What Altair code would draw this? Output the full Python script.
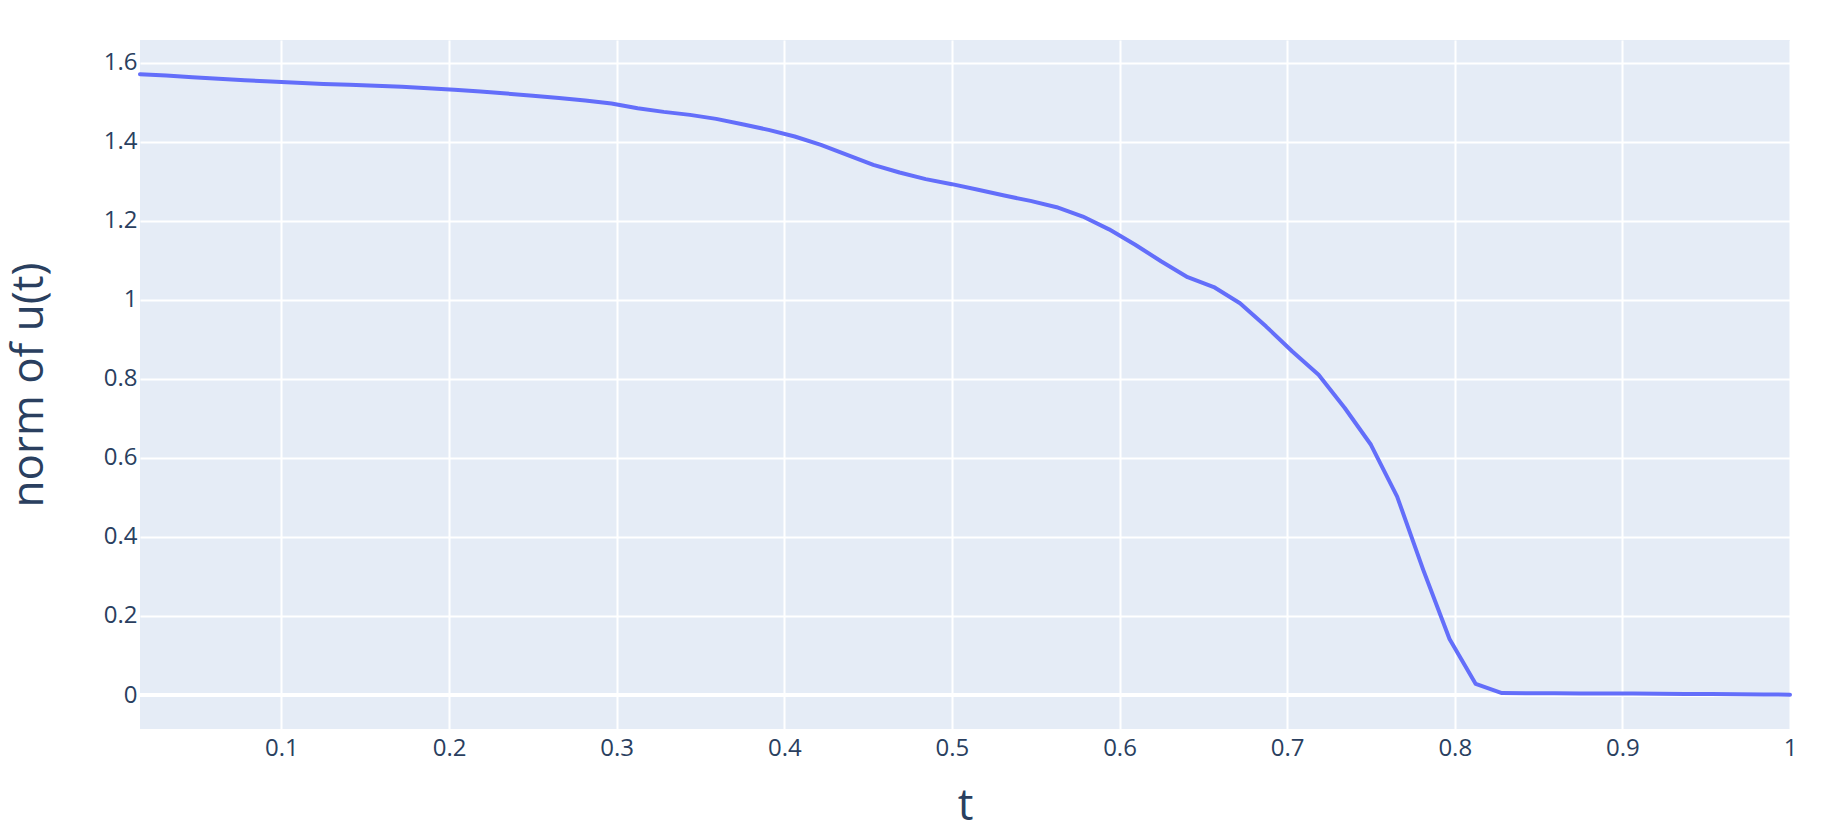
import altair as alt
import pandas as pd

# time samples (t = k/64)
t_values = [
    0.015625, 0.03125, 0.046875, 0.0625, 0.078125, 0.09375, 0.109375, 0.125,
    0.140625, 0.15625, 0.171875, 0.1875, 0.203125, 0.21875, 0.234375, 0.25,
    0.265625, 0.28125, 0.296875, 0.3125, 0.328125, 0.34375, 0.359375, 0.375,
    0.390625, 0.40625, 0.421875, 0.4375, 0.453125, 0.46875, 0.484375, 0.5,
    0.515625, 0.53125, 0.546875, 0.5625, 0.578125, 0.59375, 0.609375, 0.625,
    0.640625, 0.65625, 0.671875, 0.6875, 0.703125, 0.71875, 0.734375, 0.75,
    0.765625, 0.78125, 0.796875, 0.8125, 0.828125, 0.84375, 0.859375, 0.875,
    0.890625, 0.90625, 0.921875, 0.9375, 0.953125, 0.96875, 0.984375, 1.0,
]

# norm of u(t)
norm_values = [
    1.5706, 1.567, 1.563, 1.5587, 1.5553, 1.552, 1.5486, 1.546,
    1.5435, 1.541, 1.5385, 1.535, 1.531, 1.5266, 1.5215, 1.5157,
    1.510, 1.504, 1.4963, 1.4845, 1.4752, 1.4676, 1.4575, 1.444,
    1.4297, 1.4128, 1.3918, 1.3665, 1.341, 1.3217, 1.305, 1.2923,
    1.278, 1.2635, 1.250, 1.234, 1.2104, 1.178, 1.139, 1.0967,
    1.057, 1.032, 0.991, 0.932, 0.869, 0.810, 0.726, 0.633,
    0.502, 0.316, 0.1416, 0.028, 0.0050, 0.0047, 0.0044, 0.0041,
    0.0038, 0.0035, 0.0031, 0.0027, 0.0023, 0.0019, 0.0014, 0.0009,
]

x_ticks = [0.1, 0.2, 0.3, 0.4, 0.5, 0.6, 0.7, 0.8, 0.9, 1.0]
y_ticks = [0, 0.2, 0.4, 0.6, 0.8, 1.0, 1.2, 1.4, 1.6]

x_domain = [0.015625, 1.0]
y_domain = [-0.086, 1.657]

df = pd.DataFrame({"t": t_values, "norm": norm_values})

FONT = "Open Sans"
TEXT_COLOR = "#2a3f5f"

x_enc = alt.X(
    "t:Q",
    scale=alt.Scale(domain=x_domain, nice=False, zero=False),
    axis=alt.Axis(
        title="t",
        values=x_ticks,
        format="~g",
        grid=True,
        gridColor="white",
        gridWidth=2,
        domain=False,
        ticks=False,
        labelFont=FONT,
        labelFontSize=24,
        labelColor=TEXT_COLOR,
        labelPadding=7,
        labelFlush=False,
        titleFont=FONT,
        titleFontSize=44,
        titleFontWeight="normal",
        titleColor=TEXT_COLOR,
        titleBaseline="alphabetic",
        titleAlign="center",
        titleX=825,
        titleY=90,
    ),
)

y_enc = alt.Y(
    "norm:Q",
    scale=alt.Scale(domain=y_domain, nice=False, zero=False),
    axis=alt.Axis(
        title="norm of u(t)",
        values=y_ticks,
        format="~g",
        grid=True,
        gridColor="white",
        gridWidth=2,
        domain=False,
        ticks=False,
        labelFont=FONT,
        labelFontSize=24,
        labelColor=TEXT_COLOR,
        labelPadding=3,
        labelFlush=False,
        titleFont=FONT,
        titleFontSize=44,
        titleFontWeight="normal",
        titleColor=TEXT_COLOR,
        titleBaseline="alphabetic",
        titleAlign="center",
        titleAngle=270,
        titleX=-98,
        titleY=344.5,
    ),
)

zero_line = alt.Chart(df).mark_rule(color="white", strokeWidth=4).encode(
    y=alt.datum(0, scale=alt.Scale(domain=y_domain, nice=False, zero=False)),
)

line = alt.Chart(df).mark_line(
    color="#636efa", strokeWidth=4, strokeJoin="round", strokeCap="round"
).encode(x=x_enc, y=y_enc)

chart = (
    alt.layer(zero_line, line)
    .properties(
        width=1650,
        height=689,
        padding={"left": 132, "top": 32, "right": 40, "bottom": 108},
        autosize=alt.AutoSizeParams(type="none"),
        background="white",
    )
    .configure_view(fill="#E5ECF6", stroke=None)
)

chart.save("out.html", embed_options={"renderer": "svg", "actions": False})
